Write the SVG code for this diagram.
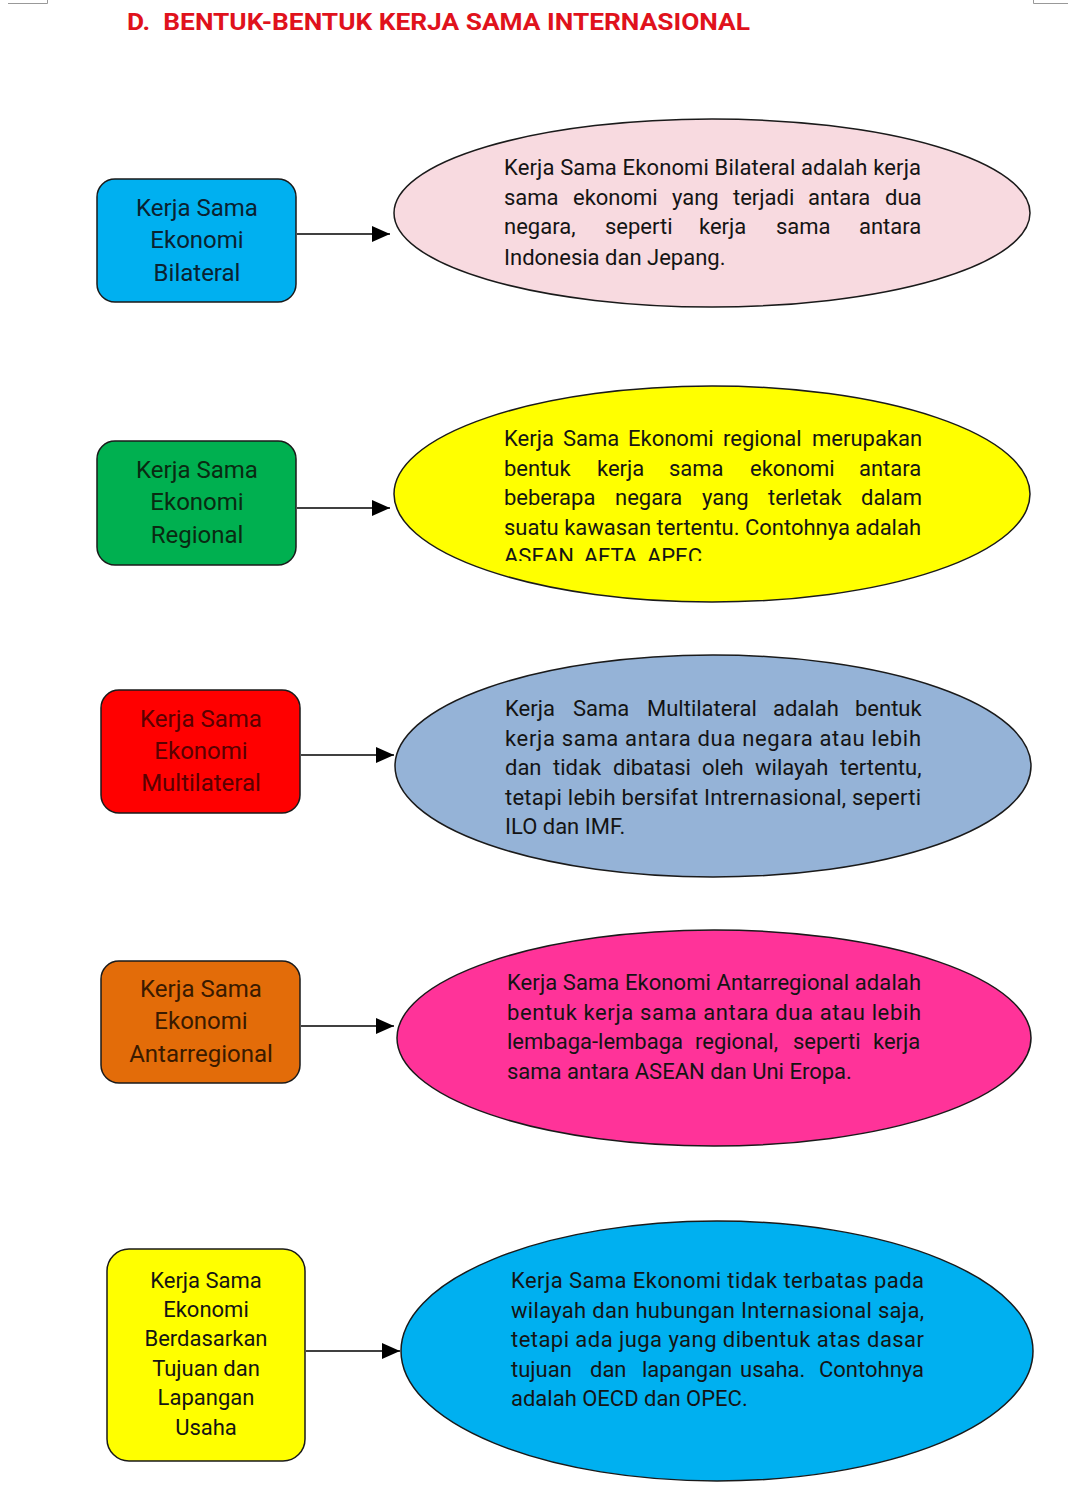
<svg xmlns="http://www.w3.org/2000/svg" width="1079" height="1507" viewBox="0 0 1079 1507">
<style>
.box{stroke:#1a1a1a;stroke-width:1.5}
.ell{stroke:#1a1a1a;stroke-width:1.5}
.bt{font-family:Roboto,"Liberation Sans",sans-serif;font-size:24px;text-anchor:middle}
.et{font-family:Roboto,"Liberation Sans",sans-serif;font-size:22px;fill:#141414}
.conn line{stroke:#000;stroke-width:1.6}
</style>
<defs>
<marker id="ah" markerWidth="18" markerHeight="16" refX="18" refY="8" orient="auto" markerUnits="userSpaceOnUse">
<path d="M0,0 L18,8 L0,16 Z" fill="#000"/>
</marker>
<clipPath id="c2"><rect x="400" y="380" width="640" height="181"/></clipPath>
</defs>
<rect width="1079" height="1507" fill="#fff"/>
<g id="corners" fill="none" stroke="#999" stroke-width="1">
<path d="M8,3.5 H47.5 V0"/>
<path d="M1068,3.5 H1033.5 V0"/>
</g>
<text id="title" x="127" y="30" font-family="Roboto,'Liberation Sans',sans-serif" font-size="24" font-weight="bold" fill="#E0121C" textLength="623" lengthAdjust="spacingAndGlyphs" xml:space="preserve">D.  BENTUK-BENTUK KERJA SAMA INTERNASIONAL</text>

<g class="conn" id="connectors">
<line x1="297" y1="234" x2="390" y2="234" marker-end="url(#ah)"/>
<line x1="297" y1="508" x2="390" y2="508" marker-end="url(#ah)"/>
<line x1="301" y1="755" x2="394" y2="755" marker-end="url(#ah)"/>
<line x1="301" y1="1026" x2="394" y2="1026" marker-end="url(#ah)"/>
<line x1="306" y1="1351" x2="400" y2="1351" marker-end="url(#ah)"/>
</g>

<g id="n1">
<rect class="box" x="97" y="179" width="199" height="123" rx="18" fill="#00B0F0"/>
<text class="bt" fill="#0a2230"><tspan x="197" y="216">Kerja Sama</tspan><tspan x="197" y="248">Ekonomi</tspan><tspan x="197" y="281">Bilateral</tspan></text>
</g>
<g id="e1">
<ellipse class="ell" cx="712" cy="213" rx="318" ry="94" fill="#F8DAE0"/>
<text class="et">
<tspan x="504" y="175" textLength="417" lengthAdjust="spacing">Kerja Sama Ekonomi Bilateral adalah kerja</tspan>
<tspan x="504" y="205">sama</tspan><tspan x="573">ekonomi</tspan><tspan x="672">yang</tspan><tspan x="733">terjadi</tspan><tspan x="808">antara</tspan><tspan x="885">dua</tspan>
<tspan x="504" y="234">negara,</tspan><tspan x="605">seperti</tspan><tspan x="699">kerja</tspan><tspan x="776">sama</tspan><tspan x="859">antara</tspan>
<tspan x="504" y="265">Indonesia dan Jepang.</tspan>
</text>
</g>

<g id="n2">
<rect class="box" x="97" y="441" width="199" height="124" rx="18" fill="#00B050"/>
<text class="bt" fill="#0a2a12"><tspan x="197" y="478">Kerja Sama</tspan><tspan x="197" y="510">Ekonomi</tspan><tspan x="197" y="543">Regional</tspan></text>
</g>
<g id="e2">
<ellipse class="ell" cx="712" cy="494" rx="318" ry="108" fill="#FFFF00"/>
<text class="et" clip-path="url(#c2)">
<tspan x="504" y="446">Kerja</tspan><tspan x="563">Sama</tspan><tspan x="628">Ekonomi</tspan><tspan x="723">regional</tspan><tspan x="812">merupakan</tspan>
<tspan x="504" y="476">bentuk</tspan><tspan x="597">kerja</tspan><tspan x="669">sama</tspan><tspan x="750">ekonomi</tspan><tspan x="859">antara</tspan>
<tspan x="504" y="505">beberapa</tspan><tspan x="615">negara</tspan><tspan x="702">yang</tspan><tspan x="768">terletak</tspan><tspan x="861">dalam</tspan>
<tspan x="504" y="535" textLength="417" lengthAdjust="spacing">suatu kawasan tertentu. Contohnya adalah</tspan>
<tspan x="504" y="564">ASEAN, AFTA, APEC.</tspan>
</text>
</g>

<g id="n3">
<rect class="box" x="101" y="690" width="199" height="123" rx="18" fill="#FF0000"/>
<text class="bt" fill="#5a0000"><tspan x="201" y="727">Kerja Sama</tspan><tspan x="201" y="759">Ekonomi</tspan><tspan x="201" y="791">Multilateral</tspan></text>
</g>
<g id="e3">
<ellipse class="ell" cx="713" cy="766" rx="318" ry="111" fill="#95B3D7"/>
<text class="et">
<tspan x="505" y="716">Kerja</tspan><tspan x="573">Sama</tspan><tspan x="647">Multilateral</tspan><tspan x="773">adalah</tspan><tspan x="855">bentuk</tspan>
<tspan x="505" y="746" textLength="416" lengthAdjust="spacing">kerja sama antara dua negara atau lebih</tspan>
<tspan x="505" y="775">dan</tspan><tspan x="553">tidak</tspan><tspan x="613">dibatasi</tspan><tspan x="702">oleh</tspan><tspan x="755">wilayah</tspan><tspan x="840">tertentu,</tspan>
<tspan x="505" y="805" textLength="416" lengthAdjust="spacing">tetapi lebih bersifat Intrernasional, seperti</tspan>
<tspan x="505" y="834">ILO dan IMF.</tspan>
</text>
</g>

<g id="n4">
<rect class="box" x="101" y="961" width="199" height="122" rx="18" fill="#E36C09"/>
<text class="bt" fill="#3a1a00"><tspan x="201" y="997">Kerja Sama</tspan><tspan x="201" y="1029">Ekonomi</tspan><tspan x="201" y="1062">Antarregional</tspan></text>
</g>
<g id="e4">
<ellipse class="ell" cx="714" cy="1038" rx="317" ry="108" fill="#FF3399"/>
<text class="et" fill="#2a0416">
<tspan x="507" y="990" textLength="414" lengthAdjust="spacing">Kerja Sama Ekonomi Antarregional adalah</tspan>
<tspan x="507" y="1020" textLength="414" lengthAdjust="spacing">bentuk kerja sama antara dua atau lebih</tspan>
<tspan x="507" y="1049">lembaga-lembaga</tspan><tspan x="695">regional,</tspan><tspan x="793">seperti</tspan><tspan x="873">kerja</tspan>
<tspan x="507" y="1079">sama antara ASEAN dan Uni Eropa.</tspan>
</text>
</g>

<g id="n5">
<rect class="box" x="107" y="1249" width="198" height="212" rx="22" fill="#FFFF00"/>
<text class="bt" style="font-size:22px" fill="#141414"><tspan x="206" y="1288">Kerja Sama</tspan><tspan x="206" y="1317">Ekonomi</tspan><tspan x="206" y="1346">Berdasarkan</tspan><tspan x="206" y="1376">Tujuan dan</tspan><tspan x="206" y="1405">Lapangan</tspan><tspan x="206" y="1435">Usaha</tspan></text>
</g>
<g id="e5">
<ellipse class="ell" cx="717" cy="1351" rx="316" ry="130" fill="#00B0F0"/>
<text class="et" fill="#0a1f2c">
<tspan x="511" y="1288" textLength="413" lengthAdjust="spacing">Kerja Sama Ekonomi tidak terbatas pada</tspan>
<tspan x="511" y="1318" textLength="413" lengthAdjust="spacing">wilayah dan hubungan Internasional saja,</tspan>
<tspan x="511" y="1347" textLength="413" lengthAdjust="spacing">tetapi ada juga yang dibentuk atas dasar</tspan>
<tspan x="511" y="1377">tujuan</tspan><tspan x="590">dan</tspan><tspan x="642">lapangan</tspan><tspan x="740">usaha.</tspan><tspan x="819">Contohnya</tspan>
<tspan x="511" y="1406">adalah OECD dan OPEC.</tspan>
</text>
</g>
</svg>
